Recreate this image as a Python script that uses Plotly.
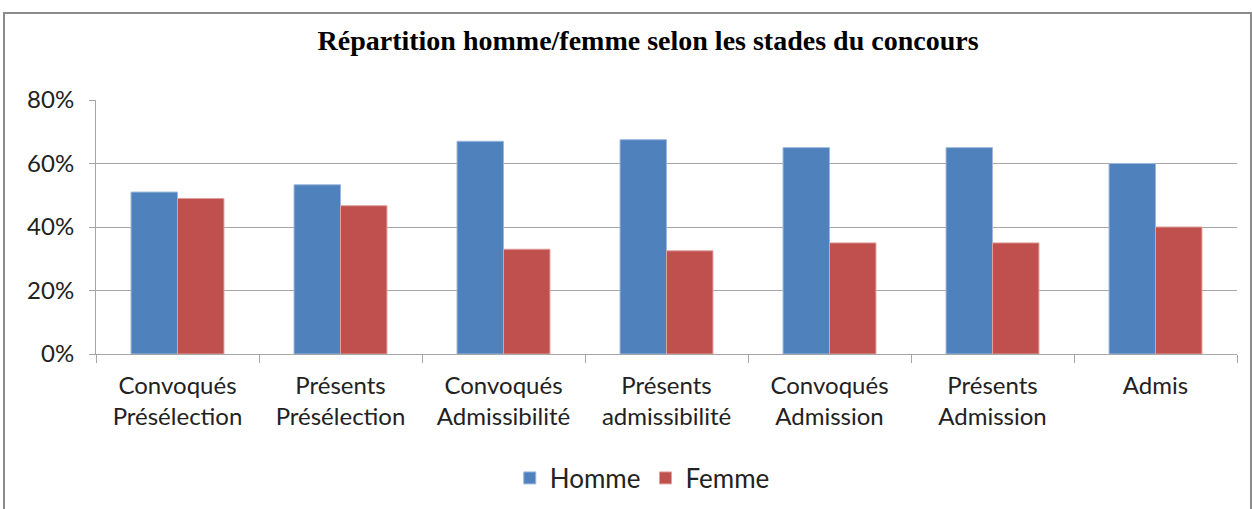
import plotly.graph_objects as go

categories = ["Convoqués<br>Présélection", "Présents<br>Présélection", "Convoqués<br>Admissibilité",
              "Présents<br>admissibilité", "Convoqués<br>Admission", "Présents<br>Admission", "Admis"]
homme = [0.51, 0.533, 0.67, 0.675, 0.65, 0.65, 0.60]
femme = [0.49, 0.467, 0.33, 0.325, 0.35, 0.35, 0.40]
y_ticks = [0, 0.2, 0.4, 0.6, 0.8]
y_labels = ["0%", "20%", "40%", "60%", "80%"]

fig = go.Figure()
fig.add_trace(go.Bar(x=categories, y=homme, name="Homme",
                     marker=dict(color="#4F81BD", line=dict(color="#9BB7DD", width=1))))
fig.add_trace(go.Bar(x=categories, y=femme, name="Femme",
                     marker=dict(color="#C0504D", line=dict(color="#E0A09E", width=1))))

W, H = 1252, 509
L, R, T, B = 96, 15, 100, 155
pw, ph = W - L - R, H - T - B

def px_x(p):
    return (p - L) / pw

def px_y(p):
    return (H - B - p) / ph

fig.add_shape(type="rect", xref="paper", yref="paper",
              x0=px_x(4), x1=px_x(1251), y0=px_y(520), y1=px_y(13),
              line=dict(color="#8C8C8C", width=2), fillcolor="rgba(0,0,0,0)", layer="below")

fig.update_layout(
    width=W, height=H,
    margin=dict(l=L, r=R, t=T, b=B, autoexpand=False),
    paper_bgcolor="white", plot_bgcolor="white",
    barmode="group", bargap=0.43, bargroupgap=0,
    title=dict(text="<b>Répartition homme/femme selon les stades du concours</b>",
               font=dict(family="Liberation Serif", size=28, color="#000"),
               x=0.5176, xanchor="center", y=0.921, yanchor="middle"),
    font=dict(family="Lato", size=22, color="#222"),
    legend=dict(orientation="h", xref="container", x=0.513, xanchor="center",
                yref="container", y=(509 - 478) / 509, yanchor="middle",
                font=dict(size=26, color="#222"), traceorder="normal"),
    showlegend=True,
)
fig.update_yaxes(range=[0, 0.8], tickvals=y_ticks, ticktext=y_labels,
                 showgrid=True, gridcolor="#A6A6A6", gridwidth=1,
                 showline=True, linecolor="#A6A6A6", linewidth=1,
                 ticks="outside", ticklen=6, tickcolor="#A6A6A6", zeroline=False,
                 tickfont=dict(size=24), ticklabelstandoff=10, automargin=False)
fig.update_xaxes(showline=True, linecolor="#A6A6A6", linewidth=1,
                 ticks="outside", tickson="boundaries", ticklen=8, tickcolor="#A6A6A6",
                 tickfont=dict(size=24), ticklabelstandoff=10, showgrid=False, automargin=False)

fig.write_html("out.html", config={"displayModeBar": False},
               post_script="document.body.style.margin='0';")
